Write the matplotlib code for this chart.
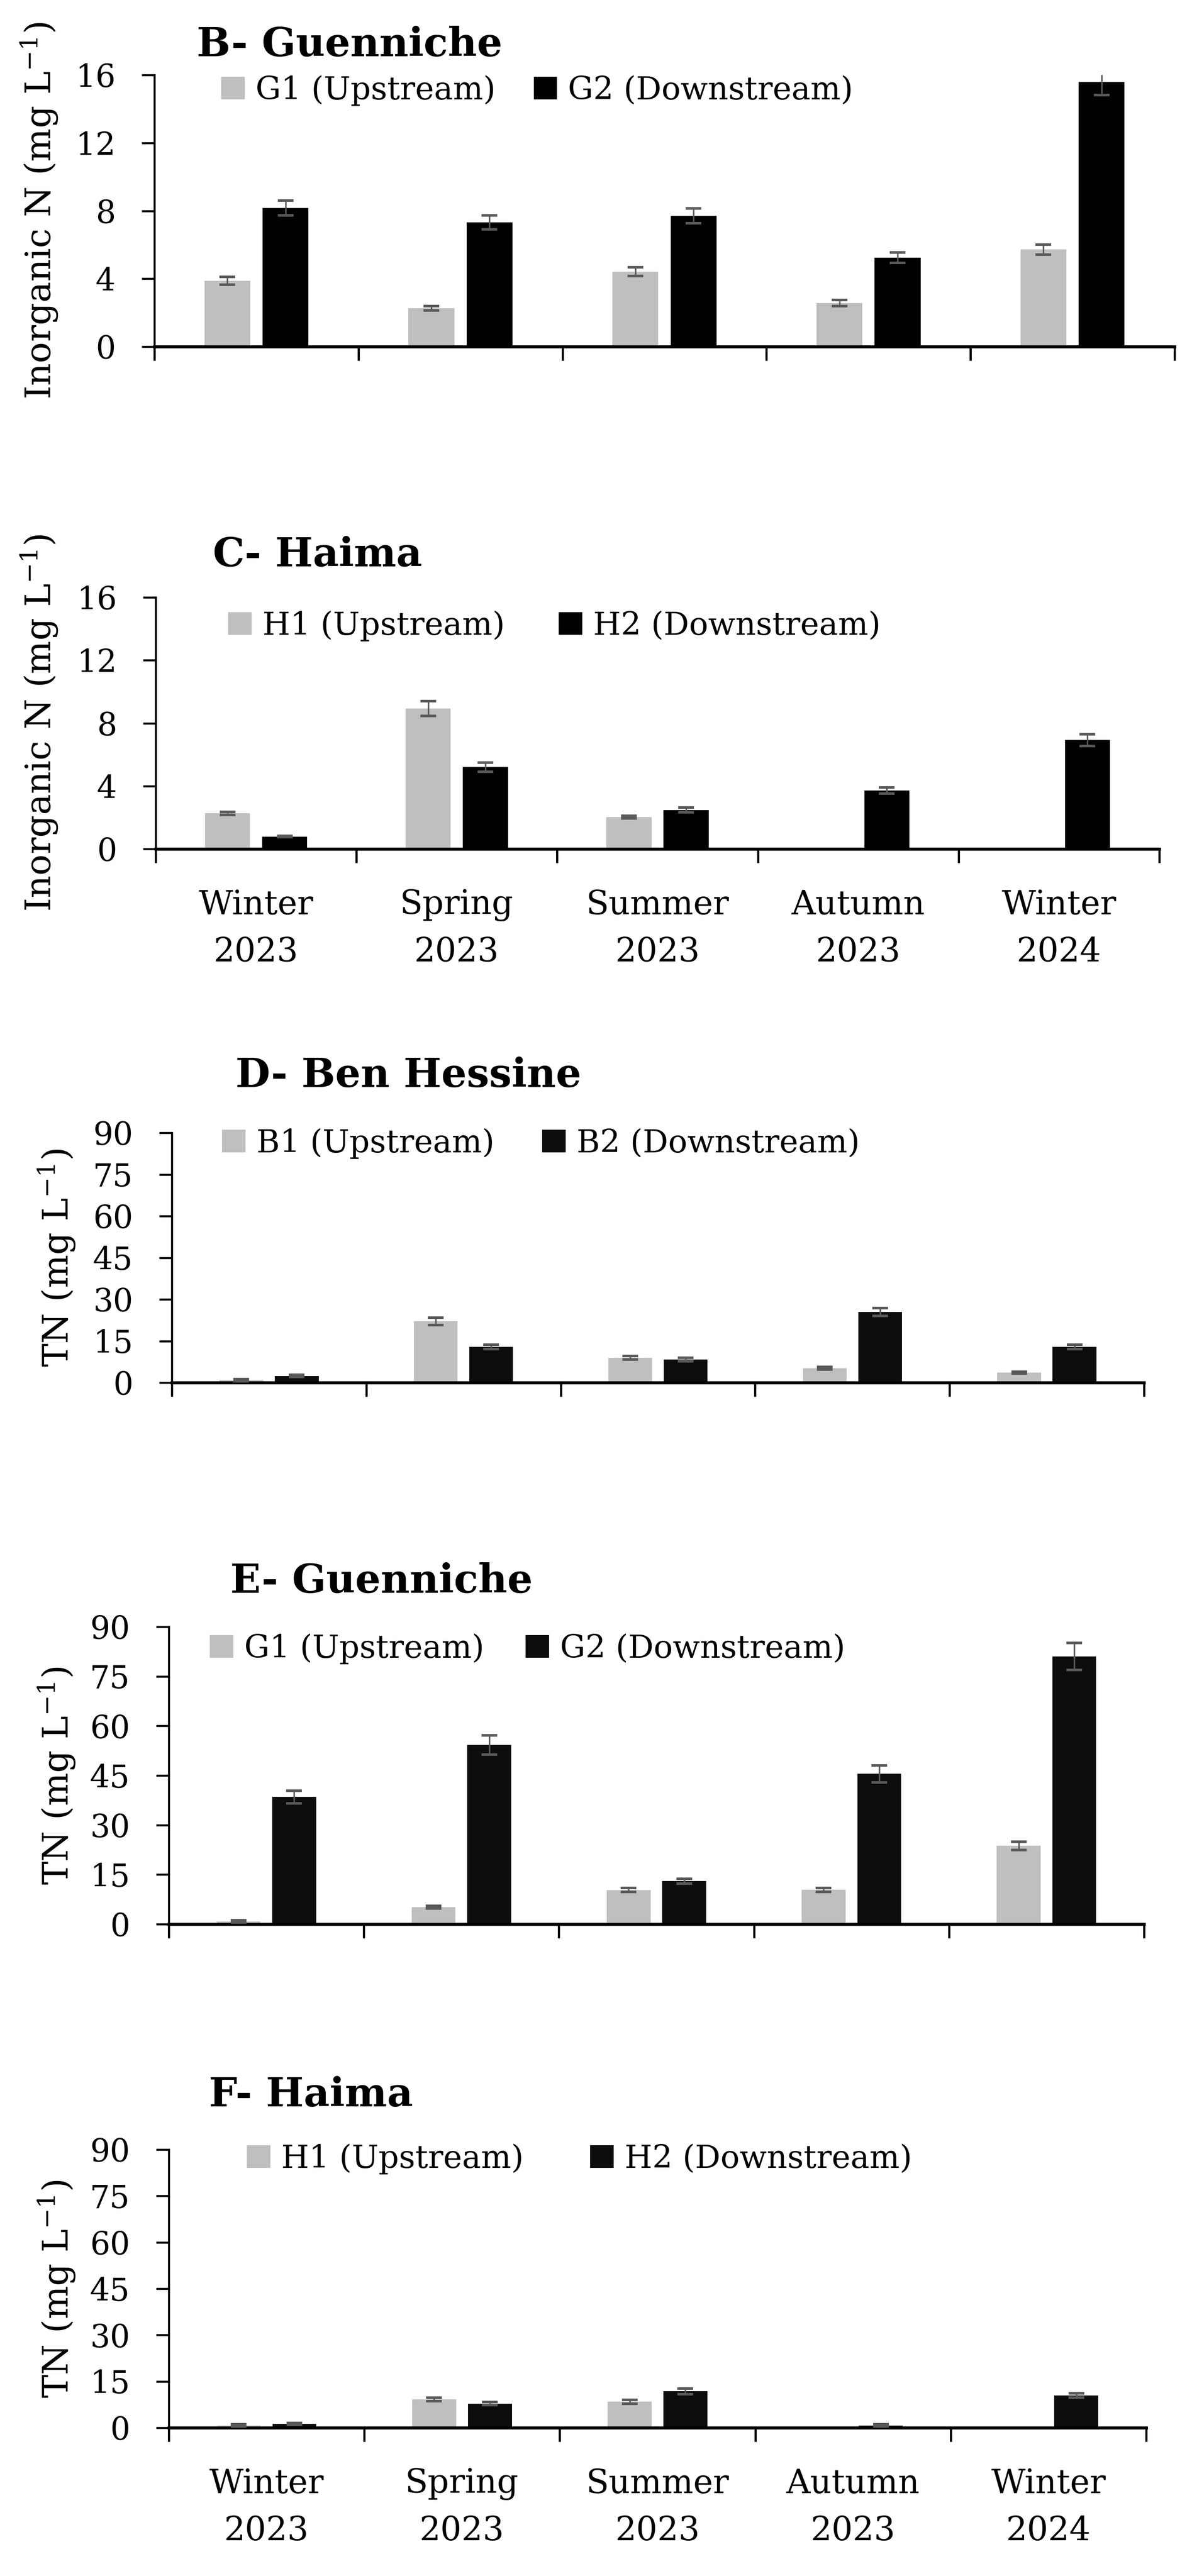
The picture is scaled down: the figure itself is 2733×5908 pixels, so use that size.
import numpy as np
import matplotlib
matplotlib.use("Agg")
import matplotlib.pyplot as plt

plt.rcParams['font.family'] = ['DejaVu Serif']
plt.rcParams['mathtext.fontset'] = 'dejavuserif'

W, H = 2733, 5908

seasons = ["Winter\n2023", "Spring\n2023", "Summer\n2023", "Autumn\n2023", "Winter\n2024"]

# B - Guenniche, inorganic N
g1_in = [3.88, 2.26, 4.42, 2.57, 5.72]
g1_in_err = [0.24, 0.12, 0.26, 0.17, 0.30]
g2_in = [8.17, 7.32, 7.71, 5.24, 15.59]
g2_in_err = [0.44, 0.42, 0.44, 0.30, 0.77]

# C - Haima, inorganic N
h1_in = [2.27, 8.94, 2.02, np.nan, np.nan]
h1_in_err = [0.10, 0.47, 0.08, np.nan, np.nan]
h2_in = [0.79, 5.20, 2.48, 3.72, 6.92]
h2_in_err = [0.05, 0.30, 0.15, 0.20, 0.38]

# D - Ben Hessine, TN
b1_tn = [0.9, 22.1, 9.0, 5.2, 3.6]
b1_tn_err = [0.4, 1.35, 0.6, 0.5, 0.3]
b2_tn = [2.4, 12.9, 8.3, 25.4, 12.9]
b2_tn_err = [0.4, 0.8, 0.6, 1.4, 0.8]

# E - Guenniche, TN
g1_tn = [0.84, 5.2, 10.3, 10.4, 23.7]
g1_tn_err = [0.3, 0.4, 0.6, 0.6, 1.3]
g2_tn = [38.5, 54.3, 13.0, 45.5, 81.0]
g2_tn_err = [1.9, 2.9, 0.7, 2.6, 4.1]

# F - Haima, TN
h1_tn = [0.76, 9.2, 8.4, np.nan, np.nan]
h1_tn_err = [0.3, 0.6, 0.6, np.nan, np.nan]
h2_tn = [1.3, 7.8, 11.8, 0.76, 10.5]
h2_tn_err = [0.3, 0.5, 0.9, 0.3, 0.7]

in_ticks = [0, 4, 8, 12, 16]
tn_ticks = [0, 15, 30, 45, 60, 75, 90]

fig = plt.figure(figsize=(W / 100, H / 100), dpi=100)


def make_ax(left, right, top, bottom):
    return fig.add_axes([left / W, 1 - bottom / H, (right - left) / W, (bottom - top) / H])


def panel(ax, up, up_err, down, down_err, names, ticks, dark, show_x, colsp, leg_xy,
          title, title_xy, ylabel, ylab_x):
    x = np.arange(len(up)) + 0.5
    up = np.array(up, dtype=float)
    down = np.array(down, dtype=float)
    ax.bar(x - 0.1425, np.nan_to_num(up), width=0.225, color='#bfbfbf', label=names[0])
    ax.bar(x + 0.1425, down, width=0.225, color=dark, label=names[1])
    ekw = dict(fmt='none', ecolor='#595959', elinewidth=2.5, capsize=13, capthick=4.3, zorder=3)
    ax.errorbar(x - 0.1425, up, yerr=up_err, **ekw)
    ax.errorbar(x + 0.1425, down, yerr=down_err, **ekw)

    ax.set_xlim(0, 5)
    ax.set_ylim(ticks[0], ticks[-1])
    ax.set_yticks(ticks)
    ax.set_xticks(range(6))
    ax.set_xticklabels([])
    ax.spines['top'].set_visible(False)
    ax.spines['right'].set_visible(False)
    ax.spines['bottom'].set_linewidth(5)
    ax.spines['left'].set_linewidth(3.3)
    ax.tick_params(axis='y', direction='out', length=21, width=3.3, pad=43, labelsize=52)
    ax.tick_params(axis='x', which='major', direction='out', length=23, width=3.6)
    if show_x:
        ax.set_xticks(x, minor=True)
        ax.set_xticklabels(seasons, minor=True, fontsize=55, linespacing=1.6)
        ax.tick_params(axis='x', which='minor', length=0, pad=66)

    ax.legend(loc='upper left', bbox_to_anchor=(leg_xy[0] / W, 1 - leg_xy[1] / H),
              bbox_transform=fig.transFigure, ncol=2, frameon=False, borderpad=0,
              borderaxespad=0, handlelength=0.74, handleheight=0.72, handletextpad=0.34,
              columnspacing=colsp, fontsize=52.5)
    fig.text(title_xy[0] / W, 1 - title_xy[1] / H, title, fontsize=66, fontweight='bold',
             ha='left', va='baseline')
    top, bottom = ax.get_position().y1, ax.get_position().y0
    fig.text(ylab_x / W, (top + bottom) / 2, ylabel, rotation=90, ha='center', va='center',
             fontsize=58)


ax_b = make_ax(354, 2693, 172, 795)
panel(ax_b, g1_in, g1_in_err, g2_in, g2_in_err, ["G1 (Upstream)", "G2 (Downstream)"],
      in_ticks, '#000000', False, 1.2, (507, 172), "B- Guenniche", (451, 129),
      "Inorganic N (mg L$^{-1}$)", 90)

ax_c = make_ax(357, 2658, 1370, 1947)
panel(ax_c, h1_in, h1_in_err, h2_in, h2_in_err, ["H1 (Upstream)", "H2 (Downstream)"],
      in_ticks, '#000000', True, 1.7, (523, 1400), "C- Haima", (488, 1299),
      "Inorganic N (mg L$^{-1}$)", 90)

ax_d = make_ax(394, 2623, 2598, 3171)
panel(ax_d, b1_tn, b1_tn_err, b2_tn, b2_tn_err, ["B1 (Upstream)", "B2 (Downstream)"],
      tn_ticks, '#0d0d0d', False, 1.5, (509, 2587), "D- Ben Hessine", (540, 2493),
      "TN (mg L$^{-1}$)", 130)

ax_e = make_ax(387, 2623, 3731, 4413)
panel(ax_e, g1_tn, g1_tn_err, g2_tn, g2_tn_err, ["G1 (Upstream)", "G2 (Downstream)"],
      tn_ticks, '#0d0d0d', False, 1.3, (481, 3746), "E- Guenniche", (528, 3653),
      "TN (mg L$^{-1}$)", 130)

ax_f = make_ax(387, 2628, 4930, 5568)
panel(ax_f, h1_tn, h1_tn_err, h2_tn, h2_tn_err, ["H1 (Upstream)", "H2 (Downstream)"],
      tn_ticks, '#0d0d0d', True, 2.1, (566, 4916), "F- Haima", (479, 4831),
      "TN (mg L$^{-1}$)", 130)

fig.savefig("out.png", dpi=100)
